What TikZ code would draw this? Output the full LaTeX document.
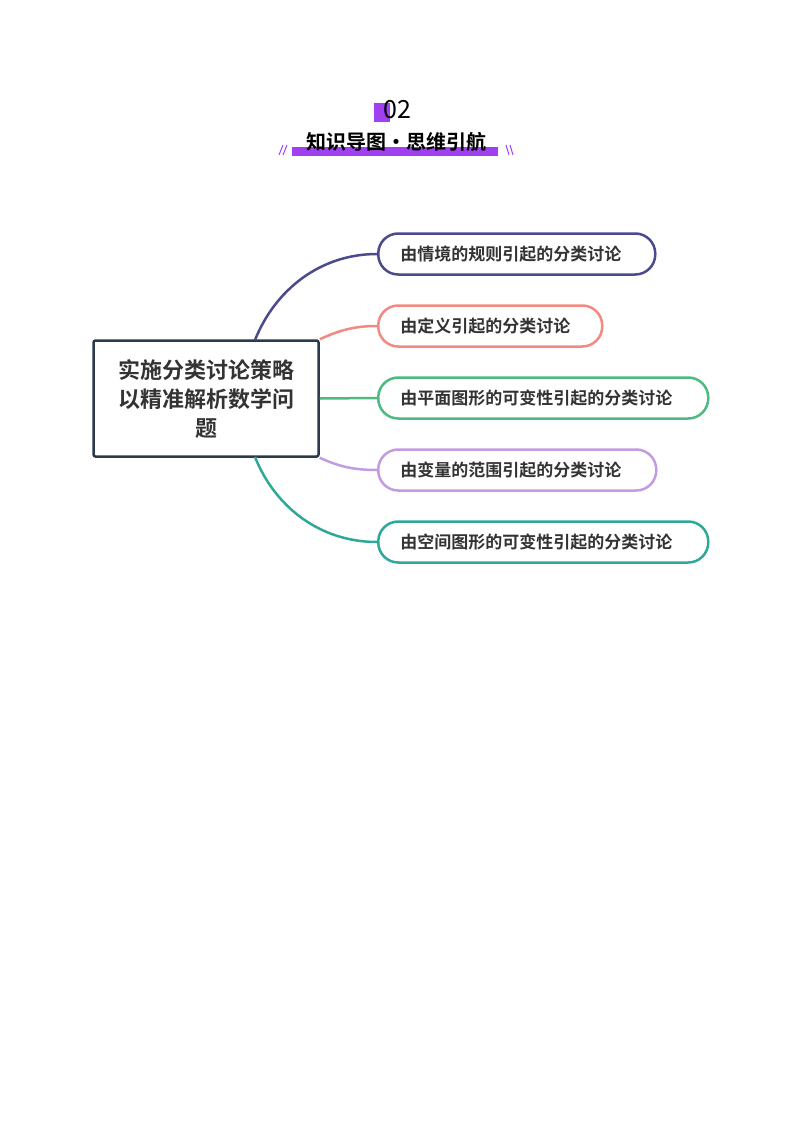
\documentclass[tikz,border=0pt]{standalone}
\usepackage{fontspec}
\newfontfamily\cjk{Noto Sans CJK SC Bold}
\newfontfamily\cjkr{Noto Sans CJK SC}
\definecolor{cb}{HTML}{4A4A8C}
\definecolor{cr}{HTML}{F28A80}
\definecolor{cg}{HTML}{4DBB80}
\definecolor{cp}{HTML}{C39BE0}
\definecolor{ct}{HTML}{2FA89A}
\definecolor{cc}{HTML}{2B3A4A}
\definecolor{pu}{HTML}{A040F0}
\begin{document}
\begin{tikzpicture}[x=1pt,y=-1pt,
 pill/.style 2 args={draw=#1,line width=2.5pt,rounded corners=20pt,minimum height=41pt,anchor=west,inner xsep=22pt,text width=#2pt-44pt,align=left,font=\cjk\fontsize{17}{19}\selectfont,text=black!80},
 conn/.style={draw=#1,line width=2.5pt}]
\useasboundingbox (0,0) rectangle (800,1132);
% header
\fill[pu] (374,103) rectangle (390,122);
\node (num) at (397,110) {\cjkr\fontsize{25}{27}\selectfont 02};
\fill[pu] (292,147) rectangle (498,156);
\node (ttl) at (396,142) {\cjk\fontsize{20}{22}\selectfont 知识导图·思维引航};
\draw[pu,line width=1pt] (279,155)--(283,145) (283,155)--(287,145);
\draw[pu,line width=1pt] (506,145)--(509,155) (510,145)--(513,155);
% central
\node[draw=cc,line width=2.5pt,rounded corners=2pt,minimum width=225pt,minimum height=116pt,align=center,text width=215pt,font=\cjk\fontsize{22}{29}\selectfont,text=black!80] (c) at (206,398.5) {实施分类讨论策略\\以精准解析数学问\\题};
\node[pill={cb}{277},minimum width=277pt] (b1) at (377,254) {由情境的规则引起的分类讨论};
\node[pill={cr}{224},minimum width=224pt] (b2) at (377,326) {由定义引起的分类讨论};
\node[pill={cg}{330},minimum width=330pt] (b3) at (377,398) {由平面图形的可变性引起的分类讨论};
\node[pill={cp}{278},minimum width=278pt] (b4) at (377,470) {由变量的范围引起的分类讨论};
\node[pill={ct}{330},minimum width=330pt] (b5) at (377,542) {由空间图形的可变性引起的分类讨论};
\coordinate (s1) at (255,340);
\coordinate (s5) at (255,457);
\draw[conn=cb] (s1) .. controls (275,290) and (320,254) .. (b1.west);
\draw[conn=cr] (c.north east) .. controls (340,330) and (355,326) .. (b2.west);
\draw[conn=cg] (c.east) -- (b3.west);
\draw[conn=cp] (c.south east) .. controls (340,467) and (355,470) .. (b4.west);
\draw[conn=ct] (s5) .. controls (275,507) and (320,542) .. (b5.west);
\end{tikzpicture}
\end{document}
